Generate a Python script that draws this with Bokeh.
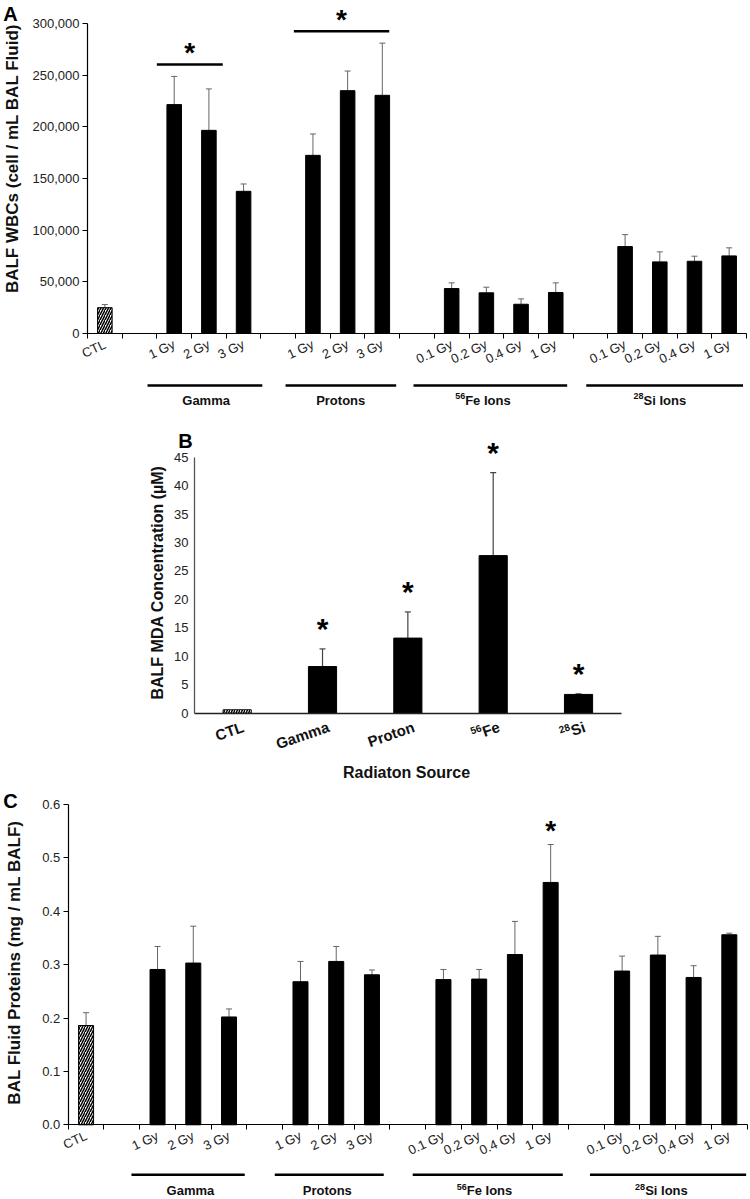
import math
from bokeh.plotting import figure
from bokeh.layouts import column
from bokeh.models import (ColumnDataSource, FixedTicker, NumeralTickFormatter,
                          Whisker, TeeHead, Range1d)
from bokeh.core.properties import value
from bokeh.embed import file_html
from bokeh.resources import INLINE

FONT = "Liberation Sans"

# ---------------- data ----------------
ctl_label = "CTL"
# group names as (superscript, main text)
group_names = [("", "Gamma"), ("", "Protons"), ("56", "Fe Ions"), ("28", "Si Ions")]
group_doses = [["1 Gy", "2 Gy", "3 Gy"],
               ["1 Gy", "2 Gy", "3 Gy"],
               ["0.1 Gy", "0.2 Gy", "0.4 Gy", "1 Gy"],
               ["0.1 Gy", "0.2 Gy", "0.4 Gy", "1 Gy"]]

# Panel A: BALF WBCs (cell / mL BAL fluid)
wbc_ctl = 25000
wbc_ctl_sem = 3000
wbc_mean = [221500, 196600, 137600, 172400, 235000, 230500,
            43500, 39400, 28300, 39700, 84100, 69300, 69900, 75100]
wbc_sem = [27300, 40100, 7100, 20700, 19000, 50500,
           5500, 5400, 5200, 9300, 11600, 9700, 4900, 7800]
wbc_sig_groups = [0, 1]
wbc_yticks = [0, 50000, 100000, 150000, 200000, 250000, 300000]

# Panel B: BALF MDA concentration (uM)
mda_sources = [("", "CTL"), ("", "Gamma"), ("", "Proton"), ("56", "Fe"), ("28", "Si")]
mda_mean = [0.6, 8.2, 13.2, 27.7, 3.3]
mda_sem = [0.0, 3.1, 4.6, 14.6, 0.1]
mda_sig = [False, True, True, True, True]
mda_yticks = [0, 5, 10, 15, 20, 25, 30, 35, 40, 45]

# Panel C: BAL fluid proteins (mg / mL BALF)
prot_ctl = 0.186
prot_ctl_sem = 0.024
prot_mean = [0.291, 0.303, 0.202, 0.268, 0.306, 0.281,
             0.272, 0.273, 0.319, 0.454, 0.288, 0.318, 0.276, 0.356]
prot_sem = [0.043, 0.069, 0.015, 0.038, 0.028, 0.009,
            0.019, 0.018, 0.062, 0.071, 0.028, 0.035, 0.022, 0.003]
prot_sig_bars = [9]
prot_yticks = [0.0, 0.1, 0.2, 0.3, 0.4, 0.5, 0.6]

# ---------------- layout helpers ----------------
W = 750
PAGE = 0

# approximate advance widths (em) of bold Arial-like glyphs, for placing superscripts
BOLD_W = {"F": .611, "e": .556, " ": .278, "I": .278, "o": .611, "n": .611, "s": .556,
          "S": .667, "i": .278, "C": .722, "T": .611, "L": .611, "G": .778, "a": .556,
          "m": .889, "P": .667, "r": .389, "t": .333}


def text_w(s, size):
    return sum(BOLD_W.get(ch, .556) for ch in s) * size


class Geo:
    """Maps page pixel positions to data coordinates for one figure."""

    def __init__(self, fig_top, height, x0, ppx, y0, ppy):
        self.fig_top, self.height = fig_top, height
        self.x0, self.ppx, self.y0, self.ppy = x0, ppx, y0, ppy

    def x(self, xp):
        return (xp - self.x0) / self.ppx

    def y(self, yp):
        return (self.y0 - yp) / self.ppy

    def dx(self, px):
        return px / self.ppx

    def dy(self, px):
        return px / self.ppy

    def make_fig(self):
        p = figure(width=W, height=self.height,
                   x_range=Range1d(self.x(PAGE), self.x(PAGE + W)),
                   y_range=Range1d(self.y(self.fig_top + self.height), self.y(self.fig_top)),
                   output_backend="svg", toolbar_location=None,
                   min_border_left=0, min_border_right=0,
                   min_border_top=0, min_border_bottom=0)
        p.title.visible = False
        p.xgrid.visible = False
        p.ygrid.visible = False
        p.outline_line_color = None
        p.background_fill_color = "white"
        p.border_fill_color = "white"
        return p


def add_text(p, x, y, text, size, bold=True, angle=0.0, align="center", color="#111"):
    p.text(x=[x], y=[y], text=[text], angle=angle, text_font=value(FONT),
           text_font_style="bold" if bold else "normal", text_font_size=f"{size}px",
           text_align=align, text_baseline="middle", text_color=color)


def add_star(p, g, x, yc, size):
    # "*" with middle baseline: glyph centre sits slightly above the anchor
    add_text(p, x, yc - g.dy(0.09 * size), "*", size, bold=True, color="black")


def add_rich(p, g, x, y, sup, main, size, sup_size, angle_deg=0.0, align="center"):
    """Text with a leading superscript. (x, y) in data units; align 'center' or 'right'."""
    th = math.radians(angle_deg)
    wm = text_w(main, size)
    ws = text_w(sup, sup_size) if sup else 0.0
    shift = (wm + ws) / 2 if align == "center" else 0.0
    ux, uy = math.cos(th), math.sin(th)          # along baseline (data-up convention)
    vx, vy = -math.sin(th), math.cos(th)         # perpendicular, upwards
    mx = x + g.dx(shift * ux)
    my = y + g.dy(shift * uy)
    add_text(p, mx, my, main, size, angle=th, align="right")
    if sup:
        rise = 0.33 * size
        sx = mx + g.dx(-wm * ux + rise * vx)
        sy = my + g.dy(-wm * uy + rise * vy)
        add_text(p, sx, sy, sup, sup_size, angle=th, align="right")


def slot_layout():
    centers = [0.5]
    labels = [ctl_label]
    granges = []
    pos = 1
    for doses in group_doses:
        pos += 1
        start = pos
        for d in doses:
            centers.append(pos + 0.5)
            labels.append(d)
            pos += 1
        granges.append((start, pos))
    return centers, labels, granges, pos


def dose_panel(g, ctl, ctl_sem, means, sems, yticks, fmt, ylabel, letter,
               line_pad, label_off, line_px, label_px, letter_px, title_px,
               sig_groups=(), sig_span=(), sig_bars=()):
    centers, labels, granges, nslots = slot_layout()
    p = g.make_fig()

    p.vbar(x=[centers[0]], top=[ctl], width=0.42, fill_color="white",
           line_color="black", line_width=1, hatch_pattern="/", hatch_color="black",
           hatch_scale=5, hatch_weight=1.5)
    p.vbar(x=centers[1:], top=means, width=0.42, fill_color="black", line_color="black")

    his = [ctl + ctl_sem] + [m + s for m, s in zip(means, sems)]
    src = ColumnDataSource(dict(x=centers, lo=[ctl] + list(means), hi=his))
    p.add_layout(Whisker(source=src, base="x", lower="lo", upper="hi", dimension="height",
                         line_color="#666", line_width=1, lower_head=None,
                         upper_head=TeeHead(size=6, line_color="#666", line_width=1)))

    xa = p.xaxis[0]
    xa.fixed_location = 0
    xa.bounds = (0, nslots)
    xa.ticker = FixedTicker(ticks=centers, minor_ticks=list(range(nslots + 1)))
    xa.major_label_overrides = {c: l for c, l in zip(centers, labels)}
    xa.major_tick_out = 0
    xa.major_tick_in = 0
    xa.minor_tick_out = 5
    xa.minor_tick_in = 0
    xa.minor_tick_line_color = "black"
    xa.major_label_orientation = math.radians(25)
    xa.major_label_text_font = FONT
    xa.major_label_text_font_size = "13px"
    xa.major_label_text_color = "#222"
    xa.major_label_standoff = 5
    xa.axis_line_color = "black"
    xa.axis_line_width = 1.2

    ya = p.yaxis[0]
    ya.fixed_location = 0
    ya.ticker = FixedTicker(ticks=yticks)
    ya.formatter = NumeralTickFormatter(format=fmt)
    ya.bounds = (0, yticks[-1])
    ya.major_tick_out = 5
    ya.major_tick_in = 0
    ya.minor_tick_out = 0
    ya.minor_tick_in = 0
    ya.major_label_standoff = 3
    ya.major_label_text_font = FONT
    ya.major_label_text_font_size = "13px"
    ya.major_label_text_color = "#222"
    ya.axis_line_color = "black"
    ya.axis_line_width = 1.2

    # group bars and names below the axis
    y_line = g.y(g.y0 + line_px)
    y_lab = g.y(g.y0 + label_px)
    for (s, e), pad, (sup, name), lo in zip(granges, line_pad, group_names, label_off):
        p.segment(x0=[s + pad[0]], y0=[y_line], x1=[e + pad[1]], y1=[y_line],
                  line_width=2.5, line_color="black")
        add_rich(p, g, (s + e) / 2 + lo, y_lab, sup, name, 13, 9)

    # significance
    for gi, span in zip(sig_groups, sig_span):
        s, e = granges[gi]
        idx = [i for i in range(1, len(centers)) if s < centers[i] < e]
        yl = max(his[i] for i in idx) + g.dy(12)
        x0, x1 = s + span[0], e + span[1]
        p.segment(x0=[x0], y0=[yl], x1=[x1], y1=[yl], line_width=2.5, line_color="black")
        add_star(p, g, (x0 + x1) / 2, yl + g.dy(14), 28)
    for b in sig_bars:
        add_star(p, g, centers[b + 1], his[b + 1] + g.dy(17), 28)

    add_text(p, g.x(letter_px[0]), g.y(letter_px[1]), letter, 20, color="black")
    add_text(p, g.x(title_px[0]), g.y(title_px[1]), ylabel, 17, angle=math.pi / 2)
    return p


# ---------------- panel A ----------------
gA = Geo(fig_top=0, height=415, x0=87, ppx=659 / 19, y0=333, ppy=310 / 300000)
pA = dose_panel(gA, wbc_ctl, wbc_ctl_sem, wbc_mean, wbc_sem, wbc_yticks, "0,0",
                "BALF WBCs (cell / mL BAL Fluid)", "A",
                line_pad=[(-0.27, 0.04), (-0.29, -0.1), (-0.6, -0.17), (-0.62, -0.1)],
                label_off=[-0.08, -0.2, -0.6, -0.5], line_px=52, label_px=67,
                letter_px=(10, 13), title_px=(12, 158),
                sig_groups=wbc_sig_groups, sig_span=[(0.0, -1.1), (-0.05, -0.3)])

# ---------------- panel B ----------------
gB = Geo(fig_top=415, height=372, x0=194, ppx=426.7 / 5, y0=712.7, ppy=256 / 45)
pB = gB.make_fig()
b_centers = [i + 0.5 for i in range(len(mda_sources))]
pB.vbar(x=b_centers[:1], top=mda_mean[:1], width=0.33, fill_color="white", line_color="black",
        line_width=1, hatch_pattern="/", hatch_color="black", hatch_scale=5, hatch_weight=1.4)
pB.vbar(x=b_centers[1:], top=mda_mean[1:], width=0.33, fill_color="black", line_color="black")
b_hi = [m + s for m, s in zip(mda_mean, mda_sem)]
bsrc = ColumnDataSource(dict(x=b_centers[1:], lo=mda_mean[1:], hi=b_hi[1:]))
pB.add_layout(Whisker(source=bsrc, base="x", lower="lo", upper="hi", dimension="height",
                      line_color="#444", line_width=1.2, lower_head=None,
                      upper_head=TeeHead(size=6, line_color="#444", line_width=1.2)))
for c, h, s in zip(b_centers, b_hi, mda_sig):
    if s:
        add_star(pB, gB, c, h + gB.dy(23), 30)

bx = pB.xaxis[0]
bx.fixed_location = 0
bx.bounds = (0, len(mda_sources))
bx.ticker = FixedTicker(ticks=[])
bx.major_tick_out = 0
bx.major_tick_in = 0
bx.minor_tick_out = 0
bx.minor_tick_in = 0
bx.major_label_text_font_size = "0px"
bx.axis_line_color = "#222"
bx.axis_line_width = 1.3

# category names under the bars, rotated, right end near the bar centre
for c, (sup, name) in zip(b_centers, mda_sources):
    add_rich(pB, gB, c + gB.dx(6), gB.y(gB.y0 + 13), sup, name, 15, 10,
             angle_deg=19, align="right")

by = pB.yaxis[0]
by.fixed_location = 0
by.ticker = FixedTicker(ticks=mda_yticks)
by.bounds = (0, mda_yticks[-1])
by.major_tick_out = 0
by.major_tick_in = 0
by.minor_tick_out = 0
by.minor_tick_in = 0
by.major_label_standoff = 6
by.major_label_text_font = FONT
by.major_label_text_font_size = "13px"
by.major_label_text_color = "#222"
by.axis_line_color = "#555"
by.axis_line_width = 1.3

add_text(pB, gB.x(185), gB.y(440), "B", 20, color="black")
add_text(pB, gB.x(157), gB.y(582), "BALF MDA Concentration (µM)", 16, angle=math.pi / 2)
add_text(pB, gB.x(406), gB.y(772), "Radiaton Source", 16)

# ---------------- panel C ----------------
gC = Geo(fig_top=787, height=412, x0=67.7, ppx=679 / 19, y0=1124.3, ppy=320.3 / 0.6)
pC = dose_panel(gC, prot_ctl, prot_ctl_sem, prot_mean, prot_sem, prot_yticks, "0.0",
                "BAL Fluid Proteins (mg / mL BALF)", "C",
                line_pad=[(-0.23, -0.06), (-0.22, -0.17), (-0.36, -0.16), (-0.4, -0.03)],
                label_off=[-0.08, -0.25, -0.35, -0.4], line_px=50, label_px=66,
                letter_px=(10, 800), title_px=(14, 962),
                sig_bars=prot_sig_bars)

layout = column(pA, pB, pC, spacing=0)
open("out.html", "w").write(file_html(layout, INLINE))
